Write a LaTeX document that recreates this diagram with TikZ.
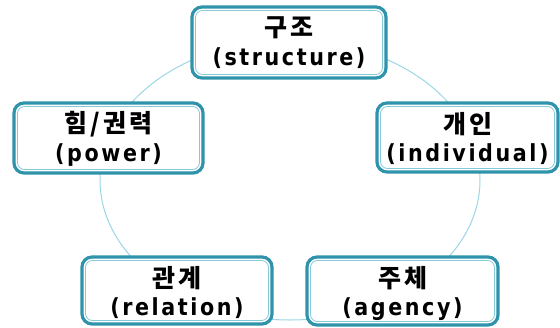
\documentclass[tikz,border=0pt]{standalone}
\usepackage{fontspec}
\usetikzlibrary{calc}
\newfontfamily\kr[LetterSpace=12]{Noto Sans CJK KR}
\newfontfamily\en[LetterSpace=11,FakeStretch=0.88]{DejaVu Sans}
\definecolor{tealo}{HTML}{2F93AB}
\definecolor{teali}{HTML}{86C9D8}
\definecolor{ring}{HTML}{9AD6E6}
\begin{document}
\begin{tikzpicture}[x=1pt,y=-1pt,
  box/.style={draw=tealo,line width=3.2pt,fill=white,rounded corners=10pt},
  inner/.style={draw=teali,line width=0.8pt,rounded corners=7pt},
  kt/.style={font=\kr\bfseries\fontsize{25}{25}\selectfont,inner sep=0pt,anchor=center},
  et/.style={font=\en\bfseries\fontsize{23.5}{23.5}\selectfont,inner sep=0pt,anchor=base}]
\useasboundingbox (0,0) rectangle (560,327);
\draw[ring,line width=1pt] (290,180) ellipse [x radius=190, y radius=140];
\foreach \n/\xa/\ya/\xb/\yb in {S/192/7/386/78, P/14/103/203/173, I/377/103/558/172, R/82/257/272/324, A/307/257/498/325}{
  \draw[box] (\xa,\ya) rectangle (\xb,\yb);
  \draw[inner] (\xa+3.5,\ya+3.5) rectangle (\xb-3.5,\yb-3.5);
  \coordinate (\n) at ({(\xa+\xb)/2},\ya);
}
\node[kt] (tS) at ($(S)+(0,21)$) {구조};
\node[et] (eS) at ($(S)+(0,58)$) {(structure)};
\node[kt] (tP) at ($(P)+(0,21)$) {힘/권력};
\node[et] (eP) at ($(P)+(0,58)$) {(power)};
\node[kt] (tI) at ($(I)+(0,21)$) {개인};
\node[et] (eI) at ($(I)+(0,58)$) {(individual)};
\node[kt] (tR) at ($(R)+(0,21)$) {관계};
\node[et] (eR) at ($(R)+(0,58)$) {(relation)};
\node[kt] (tA) at ($(A)+(0,21)$) {주체};
\node[et] (eA) at ($(A)+(0,58)$) {(agency)};
\end{tikzpicture}
\end{document}
